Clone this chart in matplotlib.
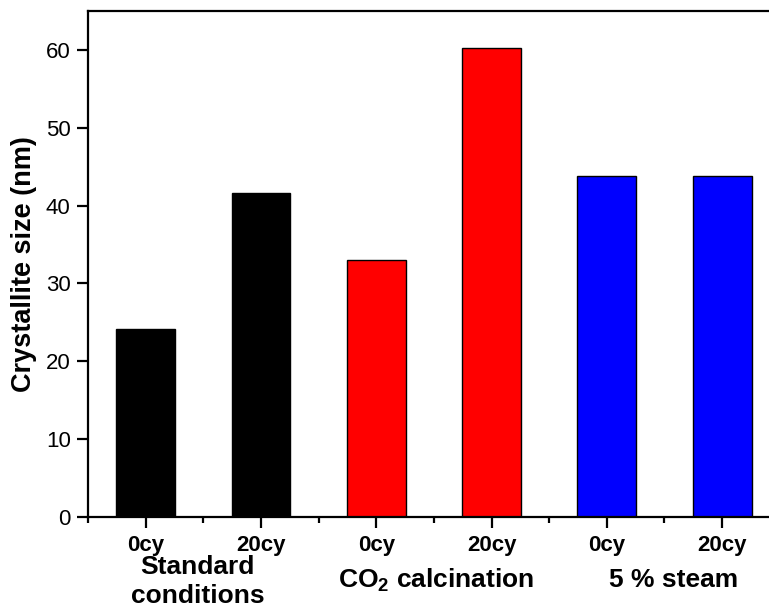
import matplotlib
matplotlib.use("Agg")
import matplotlib.pyplot as plt
from matplotlib.ticker import MultipleLocator

plt.rcParams['font.family'] = ['Liberation Sans', 'DejaVu Sans']
plt.rcParams['mathtext.fontset'] = 'custom'
plt.rcParams['mathtext.rm'] = 'Liberation Sans:bold'
plt.rcParams['mathtext.it'] = 'Liberation Sans:bold:italic'
plt.rcParams['mathtext.bf'] = 'Liberation Sans:bold'

# Data
cycle_labels = ["0cy", "20cy", "0cy", "20cy", "0cy", "20cy"]
crystallite_size = [24.1, 41.6, 33.0, 60.2, 43.8, 43.8]
bar_colors = ["#000000", "#000000", "#ff0000", "#ff0000", "#0000ff", "#0000ff"]
group_labels = ["Standard\nconditions", "CO$_2$ calcination", "5 % steam"]
group_centers = [1.45, 3.52, 5.58]

fig = plt.figure(figsize=(7.69, 6.09), dpi=100)
ax = fig.add_axes([88 / 769, 92.3 / 609, 691.8 / 769, 505.7 / 609])

x = list(range(1, len(crystallite_size) + 1))
ax.bar(x, crystallite_size, width=0.51, color=bar_colors,
       edgecolor="black", linewidth=1.0, zorder=2)

ax.set_xlim(0.5, 6.5)
ax.set_ylim(0, 65)
ax.yaxis.set_major_locator(MultipleLocator(10))
ax.set_xticks(x)
ax.set_xticklabels(cycle_labels, fontsize=16, fontweight="bold")
ax.set_xticks([v + 0.5 for v in range(0, 6)], minor=True)

for s in ax.spines.values():
    s.set_linewidth(1.6)
ax.spines["right"].set_visible(False)

ax.tick_params(axis="both", which="major", direction="out", length=8,
               width=1.6)
ax.tick_params(axis="x", which="minor", direction="out", length=4, width=1.6)
ax.tick_params(axis="x", which="major", pad=5)
ax.tick_params(axis="y", which="major", pad=4.5, labelsize=16)

ax.set_ylabel("Crystallite size (nm)", fontsize=19.5, fontweight="bold",
              labelpad=6)

trans = ax.get_xaxis_transform()
ax.text(group_centers[0], -0.128, group_labels[0], transform=trans,
        ha="center", va="center", fontsize=19, fontweight="bold",
        linespacing=1.25)
ax.text(group_centers[1], -0.125, group_labels[1], transform=trans,
        ha="center", va="center", fontsize=19, fontweight="bold")
ax.text(group_centers[2], -0.125, group_labels[2], transform=trans,
        ha="center", va="center", fontsize=19, fontweight="bold")

fig.savefig("out.png", dpi=100)
